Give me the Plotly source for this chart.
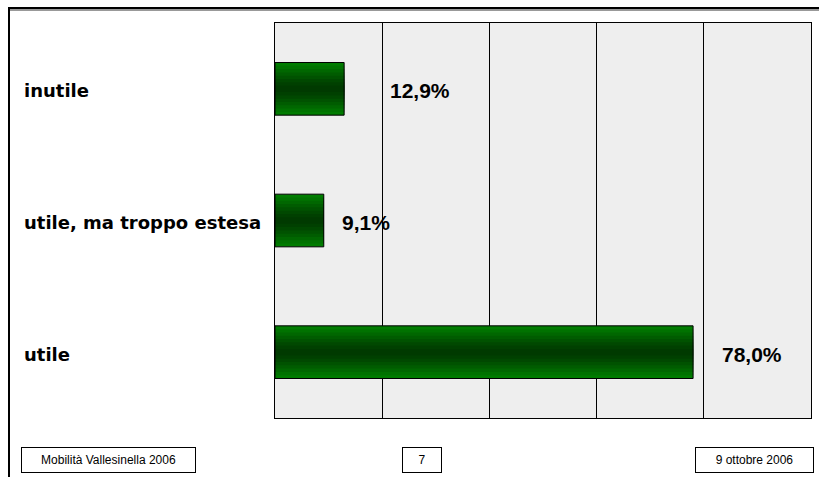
import plotly.graph_objects as go

# data, top to bottom as in the chart
categories = ["inutile", "utile, ma troppo estesa", "utile"]
values = [12.9, 9.1, 78.0]
value_labels = ["12,9%", "9,1%", "78,0%"]
footer_texts = ["Mobilità Vallesinella 2006", "7", "9 ottobre 2006"]

W, H = 819, 477
L, R, T, B = 275, 8, 23, 59
PW, PH = W - L - R, H - T - B


def px(x):
    # pixel x -> paper x
    return (x - L) / PW


def py(y):
    # pixel y -> paper y
    return (H - B - y) / PH


fig = go.Figure()

# fake the cylinder-ish gradient with stacked overlaid bars
shades = [(0.40, '#007c00'), (0.35, '#007200'), (0.30, '#006700'),
          (0.25, '#005c00'), (0.20, '#005200'), (0.15, '#004800'),
          (0.10, '#004000'), (0.05, '#003a00')]
for w, c in shades:
    fig.add_trace(go.Bar(
        x=values, y=categories, orientation='h', width=w,
        marker=dict(color=c, line=dict(width=0)),
        hoverinfo='skip', showlegend=False
    ))
# outline on top
fig.add_trace(go.Bar(
    x=values, y=categories, orientation='h', width=0.40,
    marker=dict(color='rgba(0,0,0,0)', line=dict(color='black', width=1)),
    showlegend=False
))

shifts = [44, 16, 27]
for cat, v, lab, s in zip(categories, values, value_labels, shifts):
    fig.add_annotation(
        x=v, y=cat, text=f"<b>{lab}</b>", showarrow=False,
        xanchor='left', xshift=s, yshift=-2,
        font=dict(family="Liberation Sans, Arial", size=21, color='black')
    )
    fig.add_annotation(
        x=px(22), xref='paper', y=cat, text=f"<b>{cat}</b>", showarrow=False,
        xanchor='left', yshift=-2,
        font=dict(family="DejaVu Sans", size=18, color='black')
    )

# footer boxes
boxes = [(21, 196), (402, 442), (695, 814)]
for txt, (x0, x1) in zip(footer_texts, boxes):
    fig.add_annotation(
        x=px((x0 + x1) / 2), y=py(460), xref='paper', yref='paper',
        text=txt, showarrow=False, width=x1 - x0 - 2, height=24,
        bordercolor='black', borderwidth=1, borderpad=0, bgcolor='white',
        xanchor='center', yanchor='middle',
        font=dict(family="Liberation Sans, Arial", size=12, color='black')
    )

# slide frame
fig.add_shape(type='line', xref='paper', yref='paper',
              x0=px(8), x1=px(819), y0=py(10), y1=py(10),
              line=dict(color='#999999', width=2))
fig.add_shape(type='line', xref='paper', yref='paper',
              x0=px(8), x1=px(819), y0=py(8), y1=py(8),
              line=dict(color='black', width=2))
fig.add_shape(type='line', xref='paper', yref='paper',
              x0=px(9), x1=px(9), y0=py(8), y1=py(477),
              line=dict(color='black', width=2))

fig.update_layout(
    width=W, height=H,
    margin=dict(l=L, r=R, t=T, b=B),
    barmode='overlay',
    paper_bgcolor='white',
    plot_bgcolor='#eeeeee',
    xaxis=dict(range=[0, 100], dtick=20, showgrid=True, gridcolor='black',
               gridwidth=1, showticklabels=False, zeroline=False,
               showline=True, linecolor='black', mirror=True, ticks=''),
    yaxis=dict(autorange='reversed', showticklabels=False, showgrid=False,
               showline=True, linecolor='black', mirror=True, ticks=''),
)

fig.write_html("out.html", config={'displayModeBar': False},
               post_script="document.body.style.margin='0';")
